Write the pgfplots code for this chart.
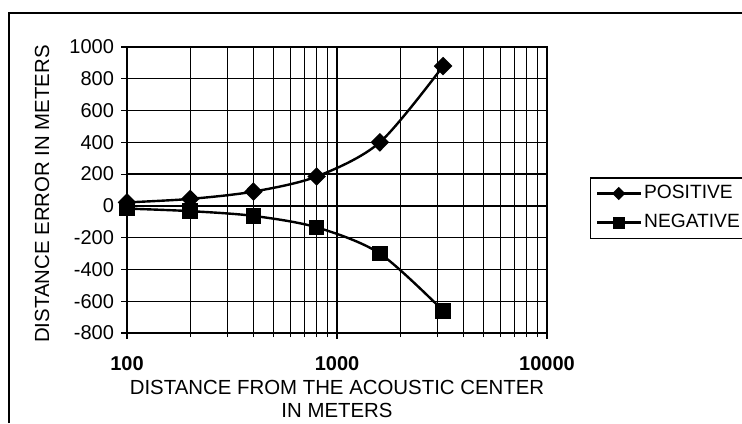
\documentclass[border=0pt]{standalone}
\usepackage{pgfplots}
\pgfplotsset{compat=1.18}
\usepackage{fontspec}
\setmainfont{Liberation Sans}
\begin{document}
\begin{tikzpicture}
\useasboundingbox (0,0) rectangle (371pt,211.5pt);
\draw[line width=1pt] (4.5pt,0) -- (4.5pt,205pt) -- (371pt,205pt);
\begin{axis}[
  at={(63.5pt,45pt)}, anchor=south west,
  scale only axis, width=210pt, height=143pt,
  xmode=log, xmin=100, xmax=10000,
  ymin=-800, ymax=1000,
  xtick={100,1000,10000},
  xticklabels={\textbf{100},\textbf{1000},\textbf{10000}},
  ytick={-800,-600,-400,-200,0,200,400,600,800,1000},
  yticklabels={-800,-600,-400,-200,0,200,400,600,800,1000},
  grid=both,
  major grid style={black, line width=0.65pt},
  minor grid style={black, line width=0.65pt},
  axis line style={black, line width=0.7pt},
  tick pos=left,
  tick align=outside,
  major tick length=3pt, minor tick length=2pt,
  tick style={black, line width=0.6pt},
  xticklabel style={font=\fontsize{10}{11}\selectfont, yshift=-5pt},
  yticklabel style={font=\fontsize{10}{11}\selectfont},
  xlabel={DISTANCE FROM THE ACOUSTIC CENTER\\IN METERS},
  xlabel style={at={(axis description cs:0.5,-0.229)}, anchor=center, align=center, font=\fontsize{10.2}{11.5}\selectfont},
  ylabel={DISTANCE ERROR IN METERS},
  ylabel style={at={(axis description cs:-0.2024,0.486)}, anchor=center, font=\fontsize{10.2}{11.5}\selectfont},
  legend style={at={(axis description cs:1.1024,0.545)}, anchor=north west, draw=black, line width=0.7pt,
    font=\fontsize{9.6}{11}\selectfont, row sep=4pt, inner sep=2.5pt, nodes={inner sep=1.2pt}},
  legend cell align=left,
  legend image code/.code={\draw[mark repeat=2,mark phase=2,line width=1.4pt,mark size=2.3pt] plot coordinates {(0cm,0cm) (0.38cm,0cm) (0.76cm,0cm)};},
]
\addplot[black, line width=1.2pt, smooth, mark=diamond*, mark size=3.8pt, mark options={solid, fill=black, xscale=1.33}]
  coordinates {(100,22) (200,44) (400,90) (800,185) (1600,400) (3200,880)};
\addlegendentry{POSITIVE}
\addplot[black, line width=1.2pt, smooth, mark=square*, mark size=3.3pt, mark options={solid, fill=black}]
  coordinates {(100,-17) (200,-33) (400,-63) (800,-135) (1600,-300) (3200,-660)};
\addlegendentry{NEGATIVE}
\end{axis}
\end{tikzpicture}
\end{document}
